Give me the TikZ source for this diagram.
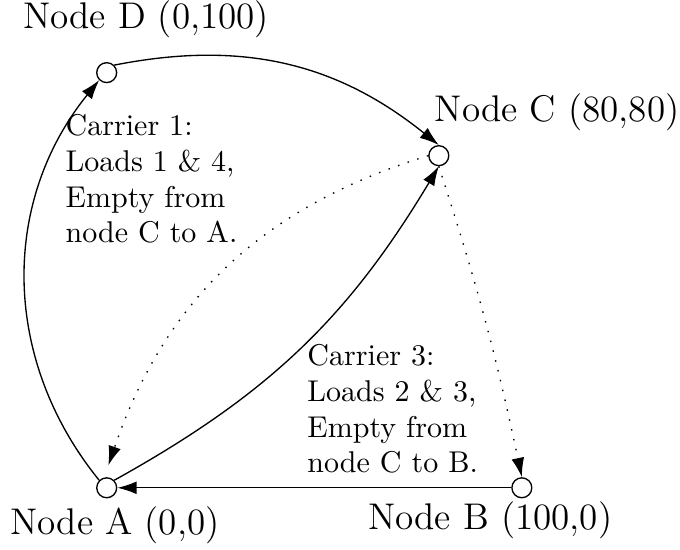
\documentclass[tikz,border=0pt]{standalone}
\usetikzlibrary{arrows.meta}
\begin{document}
\begin{tikzpicture}[x=1.397pt, y=1.397pt, line width=0.45pt,
  vtx/.style={circle, draw, inner sep=0pt, minimum size=6.7pt},
  lbl/.style={inner sep=0pt, font=\fontsize{12.5}{15}\selectfont},
  note/.style={inner sep=0pt, font=\fontsize{10.1}{12}\selectfont, align=left, anchor=north west},
  arr/.style={-{Latex[length=6.5pt,width=4.3pt]}},
  dots/.style={dash pattern=on 0.5pt off 2.9pt}]
\useasboundingbox (-25.7,-14.8) rectangle (138.1,117.5);
\node[vtx] (A) at (0,0) {};
\node[vtx] (B) at (100,0) {};
\node[vtx] (C) at (80,80) {};
\node[vtx] (D) at (0,100) {};
\node[lbl] (lA) at (2.0,-9.0) {Node A (0,0)};
\node[lbl] (lB) at (92.4,-7.8) {Node B (100,0)};
\node[lbl] (lC) at (108.5,90.5) {Node C (80,80)};
\node[lbl] (lD) at (9.5,112.8) {Node D (0,100)};
\node[note] (n1) at (-10.05,90.0) {Carrier 1:\\Loads 1 \& 4,\\Empty from\\node C to A.};
\node[note] (n3) at (48.2,34.6) {Carrier 3:\\Loads 2 \& 3,\\Empty from\\node C to B.};
\coordinate (Aend) at (0.4,5.4);
\draw[arr] (A.north west) to[bend left=39] (D.south west);
\draw[arr] (D.north east) to[bend left=25] (C.north);
\draw[arr] (A.north east) to[bend right=15] (C.south);
\draw[arr,dots] (C.west) to[bend right=27] (Aend);
\draw[arr,dots] (C.south) to[bend left=3] (B.north);
\draw[arr] (B.west) -- (A.east);
\end{tikzpicture}
\end{document}
